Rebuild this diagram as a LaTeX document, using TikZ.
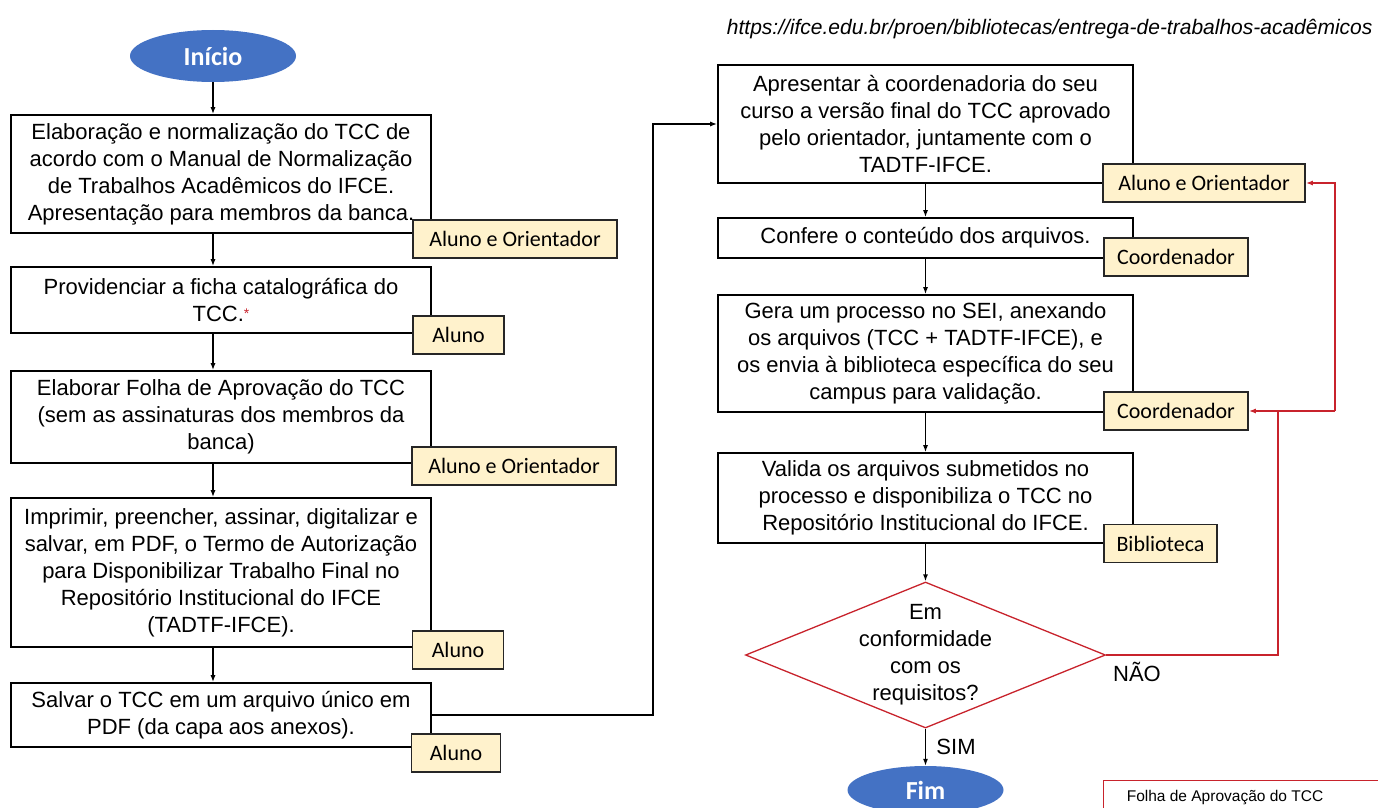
\documentclass[tikz,border=0pt]{standalone}
\usepackage{fontspec}
\setmainfont{Liberation Sans}
\newfontfamily\lblfont{Carlito}
\usetikzlibrary{arrows.meta,positioning,shapes.geometric}

\definecolor{startblue}{HTML}{4472C4}
\definecolor{roleyellow}{HTML}{FFF2CC}
\definecolor{loopred}{HTML}{C8232C}

\tikzset{
  stepbox/.style={draw,line width=1.6pt,fill=white,align=center,inner sep=0pt},
  role/.style={draw=black!85,line width=1.6pt,fill=roleyellow,inner sep=0pt,minimum height=38pt,
    font=\lblfont\fontsize{22}{26}\selectfont},
  terminal/.style={ellipse,fill=startblue,text=white,inner sep=0pt,
    font=\lblfont\bfseries\fontsize{26}{30}\selectfont},
  arr/.style={-{Latex[length=7pt,width=5pt]},line width=1.3pt},
  redarr/.style={-{Latex[length=7pt,width=5pt]},line width=1.4pt,draw=loopred,color=loopred},
}

\begin{document}
\begin{tikzpicture}[x=1pt,y=-1pt,font=\fontsize{22}{27}\selectfont]
\useasboundingbox (0,0) rectangle (1378,808);
\node[anchor=east,font=\itshape\fontsize{21}{25}\selectfont] (url) at (1376,29) {https://ifce.edu.br/proen/bibliotecas/entrega-de-trabalhos-acadêmicos};

% left column
\node[terminal,minimum width=166pt,minimum height=52pt] (start) at (213,56) {Início};
\node[stepbox,minimum width=420pt,minimum height=118pt] (b1) at (221,174) {Elaboração e normalização do TCC de\\acordo com o Manual de Normalização\\de Trabalhos Acadêmicos do IFCE.\\Apresentação para membros da banca.};
\node[stepbox,minimum width=420pt,minimum height=66pt] (b2) at (221,300) {Providenciar a ficha catalográfica do\\TCC.{\color{loopred}\fontsize{14}{14}\selectfont\raisebox{3pt}{*}}};
\node[stepbox,minimum width=420pt,minimum height=92pt] (b3) at (221,417) {Elaborar Folha de Aprovação do TCC\\(sem as assinaturas dos membros da\\banca)};
\node[stepbox,minimum width=420pt,minimum height=149pt] (b4) at (221,572.5) {Imprimir, preencher, assinar, digitalizar e\\salvar, em PDF, o Termo de Autorização\\para Disponibilizar Trabalho Final no\\Repositório Institucional do IFCE\\(TADTF-IFCE).};
\node[stepbox,minimum width=420pt,minimum height=64pt] (b5) at (221,715) {Salvar o TCC em um arquivo único em\\PDF (da capa aos anexos).};

\node[role,minimum width=204pt] (l1) at (515,239) {Aluno e Orientador};
\node[role,minimum width=91pt] (l2) at (458.5,335) {Aluno};
\node[role,minimum width=204pt] (l3) at (514,466) {Aluno e Orientador};
\node[role,minimum width=91pt] (l4) at (458,650) {Aluno};
\node[role,minimum width=89pt] (l5) at (456,753) {Aluno};

\draw[arr] (start.south) -- (start.south |- b1.north);
\draw[arr] (b1.south -| start) -- (b2.north -| start);
\draw[arr] (b2.south -| start) -- (b3.north -| start);
\draw[arr] (b3.south -| start) -- (b4.north -| start);
\draw[arr] (b4.south -| start) -- (b5.north -| start);

% right column
\node[stepbox,minimum width=415pt,minimum height=118pt] (r1) at (925.5,124) {Apresentar à coordenadoria do seu\\curso a versão final do TCC aprovado\\pelo orientador, juntamente com o\\TADTF-IFCE.};
\node[stepbox,minimum width=415pt,minimum height=40pt] (r2) at (925.5,238) {Confere o conteúdo dos arquivos.};
\node[stepbox,minimum width=415pt,minimum height=117pt] (r3) at (925.5,353.5) {Gera um processo no SEI, anexando\\os arquivos (TCC + TADTF-IFCE), e\\os envia à biblioteca específica do seu\\campus para validação.};
\node[stepbox,minimum width=415pt,minimum height=90pt] (r4) at (925.5,498) {Valida os arquivos submetidos no\\processo e disponibiliza o TCC no\\Repositório Institucional do IFCE.};

\node[role,minimum width=202pt] (lr1) at (1204,183) {Aluno e Orientador};
\node[role,minimum width=144pt] (lr2) at (1176,257) {Coordenador};
\node[role,minimum width=144pt] (lr3) at (1176,411) {Coordenador};
\node[role,minimum width=113pt] (lr4) at (1160.5,543.5) {Biblioteca};

\node[diamond,draw=loopred,line width=1.3pt,fill=white,aspect=2.46,inner sep=-4pt,
  minimum width=360pt,minimum height=146pt,align=center] (check) at (925.5,655) {Em\\conformidade\\com os\\requisitos?};
\node[terminal,minimum width=156pt,minimum height=48pt] (stop) at (925.5,790) {Fim};

% over to the right column
\coordinate (up) at (653,715);
\draw[arr] (b5.east) -- (up) |- (r1.west);

\draw[arr] (r1) -- (r2);
\draw[arr] (r2) -- (r3);
\draw[arr] (r3) -- (r4);
\draw[arr] (r4) -- (check);
\draw[arr] (check) -- (stop) node[midway,right=7pt] {SIM};

% back loop
\node (no) at (1137,672) {NÃO};
\coordinate (jn) at (1278,411);
\coordinate (rt) at (1335,411);
\draw[loopred,line width=1.4pt] (check.east) -| (jn);
\draw[redarr] (rt) -- (lr3.east);
\draw[redarr] (rt) |- (lr1.east);

% note box
\node[font=\fontsize{15.5}{18}\selectfont] (note) at (1225,798) {Folha de Aprovação do TCC};
\draw[loopred,line width=1pt] (1103,840) |- (1400,780);
\end{tikzpicture}
\end{document}
